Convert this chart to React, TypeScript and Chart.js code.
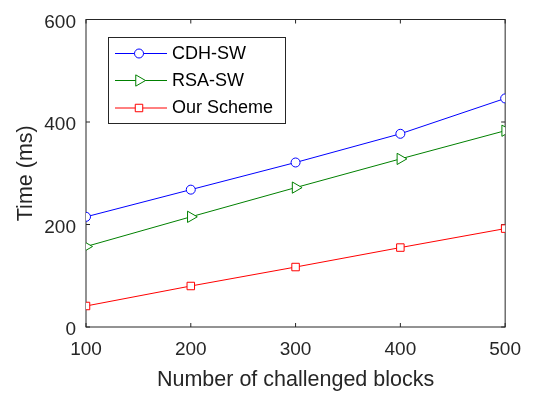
import React, { useEffect, useRef } from "react";
import { Chart, registerables } from "chart.js";

Chart.register(...registerables);

const blocks = [100, 200, 300, 400, 500];
const cdhSW = [215, 268, 321, 377, 446];
const rsaSW = [157, 215, 272, 328, 383];
const ourScheme = [41, 80, 117, 155, 192];
const seriesNames = ["CDH-SW", "RSA-SW", "Our Scheme"];
const xTitle = "Number of challenged blocks";
const yTitle = "Time (ms)";

const AXIS = "#262626";
const FONT = "'Liberation Sans', Arial, Helvetica, sans-serif";

function drawMarker(ctx: CanvasRenderingContext2D, style: string, x: number, y: number, r: number, color: string) {
  ctx.save();
  ctx.strokeStyle = color;
  ctx.fillStyle = "#ffffff";
  ctx.lineWidth = 1;
  ctx.beginPath();
  if (style === "circle") {
    ctx.arc(x, y, r, 0, Math.PI * 2);
  } else if (style === "triangle") {
    let rad = Math.PI / 2;
    for (let i = 0; i < 3; i++) {
      const px = x + Math.sin(rad) * r;
      const py = y - Math.cos(rad) * r;
      if (i === 0) ctx.moveTo(px, py);
      else ctx.lineTo(px, py);
      rad += (2 * Math.PI) / 3;
    }
    ctx.closePath();
  } else {
    const s = Math.SQRT1_2 * r;
    ctx.rect(x - s, y - s, 2 * s, 2 * s);
  }
  ctx.fill();
  ctx.stroke();
  ctx.restore();
}

const boxPlugin = {
  id: "matlabBox",
  beforeDatasetsDraw(chart: any) {
    const { ctx, chartArea } = chart;
    const { left, right, top, bottom } = chartArea;
    ctx.save();
    ctx.strokeStyle = AXIS;
    ctx.lineWidth = 1;
    ctx.strokeRect(left, top, right - left, bottom - top);
    const tl = 4;
    const xs = chart.scales.x;
    const ys = chart.scales.y;
    ctx.beginPath();
    xs.ticks.forEach((t: any) => {
      const px = xs.getPixelForValue(t.value);
      ctx.moveTo(px, bottom);
      ctx.lineTo(px, bottom - tl);
      ctx.moveTo(px, top);
      ctx.lineTo(px, top + tl);
    });
    ys.ticks.forEach((t: any) => {
      const py = ys.getPixelForValue(t.value);
      ctx.moveTo(left, py);
      ctx.lineTo(left + tl, py);
      ctx.moveTo(right, py);
      ctx.lineTo(right - tl, py);
    });
    ctx.stroke();
    ctx.restore();
  },
};

const legendPlugin = {
  id: "matlabLegend",
  afterDraw(chart: any) {
    const { ctx } = chart;
    const bx = 108, by = 37, bw = 177, bh = 86;
    ctx.save();
    ctx.fillStyle = "#ffffff";
    ctx.fillRect(bx, by, bw, bh);
    ctx.strokeStyle = AXIS;
    ctx.lineWidth = 1;
    ctx.strokeRect(bx + 0.5, by + 0.5, bw, bh);
    const rows = [53.5, 80.5, 108];
    chart.data.datasets.forEach((ds: any, i: number) => {
      const y = rows[i];
      ctx.strokeStyle = ds.borderColor;
      ctx.lineWidth = 1;
      ctx.beginPath();
      ctx.moveTo(115, y);
      ctx.lineTo(167, y);
      ctx.stroke();
      drawMarker(ctx, ds.pointStyle, 139, y, ds.pointRadius, ds.borderColor);
      ctx.fillStyle = "#000000";
      ctx.font = `18px ${FONT}`;
      ctx.textBaseline = "middle";
      ctx.textAlign = "left";
      ctx.fillText(ds.label, 172, y + 0.5);
    });
    ctx.restore();
  },
};

export default function App() {
  const ref = useRef<HTMLCanvasElement | null>(null);
  useEffect(() => {
    if (!ref.current) return;
    const mk = (vals: number[]) => blocks.map((x, i) => ({ x, y: vals[i] }));
    const chart = new Chart(ref.current, {
      type: "line",
      data: {
        datasets: [
          {
            label: seriesNames[0],
            data: mk(cdhSW),
            borderColor: "#0000ff",
            backgroundColor: "#ffffff",
            pointBackgroundColor: "#ffffff",
            borderWidth: 1,
            pointStyle: "circle",
            pointRadius: 4.5,
            pointBorderWidth: 1,
          },
          {
            label: seriesNames[1],
            data: mk(rsaSW),
            borderColor: "#008000",
            backgroundColor: "#ffffff",
            pointBackgroundColor: "#ffffff",
            borderWidth: 1,
            pointStyle: "triangle",
            pointRotation: 90,
            pointRadius: 6.5,
            pointBorderWidth: 1,
          },
          {
            label: seriesNames[2],
            data: mk(ourScheme),
            borderColor: "#ff0000",
            backgroundColor: "#ffffff",
            pointBackgroundColor: "#ffffff",
            borderWidth: 1,
            pointStyle: "rect",
            pointRadius: 5.3,
            pointBorderWidth: 1,
          },
        ] as any,
      },
      options: {
        animation: false,
        responsive: false,
        layout: { padding: { top: 15, right: 25, left: 0, bottom: 0 } },
        plugins: { legend: { display: false }, tooltip: { enabled: false } },
        elements: { line: { tension: 0 } },
        scales: {
          x: {
            type: "linear",
            min: 100,
            max: 500,
            grid: { display: false, drawTicks: false },
            border: { display: false },
            ticks: {
              stepSize: 100,
              padding: 13,
              color: AXIS,
              font: { family: FONT, size: 19, lineHeight: 1 },
              maxRotation: 0,
            },
            title: {
              display: true,
              text: xTitle,
              color: AXIS,
              font: { family: FONT, size: 21.5, lineHeight: 1 },
              padding: { top: 0, bottom: 4 },
            },
            afterFit(scale: any) {
              scale.height = 68;
            },
          },
          y: {
            type: "linear",
            min: 0,
            max: 600,
            grid: { display: false, drawTicks: false },
            border: { display: false },
            ticks: {
              stepSize: 200,
              padding: 10,
              labelOffset: 3,
              color: AXIS,
              font: { family: FONT, size: 19, lineHeight: 1 },
            },
            title: {
              display: true,
              text: yTitle,
              color: AXIS,
              font: { family: FONT, size: 21.5, lineHeight: 1 },
              padding: { top: 15, bottom: 0 },
            },
            afterFit(scale: any) {
              scale.width = 86;
            },
          },
        },
      } as any,
      plugins: [boxPlugin, legendPlugin],
    });
    return () => chart.destroy();
  }, []);
  return (
    <canvas
      ref={ref}
      width={534}
      height={395}
      style={{ position: "absolute", left: 0, top: 0, width: 534, height: 395 }}
    />
  );
}
